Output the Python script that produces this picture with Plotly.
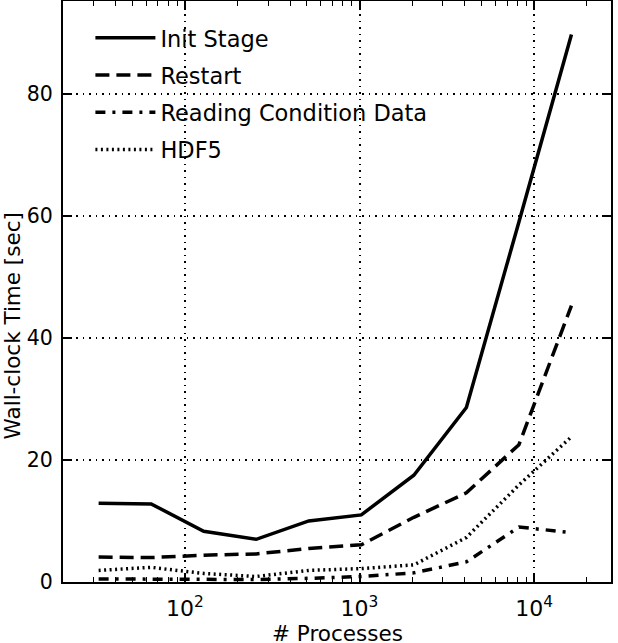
import plotly.graph_objects as go

# Process counts (x) and timings in seconds
procs = [32, 64, 128, 256, 512, 1024, 2048, 4096, 8192, 16384]
init_stage = [12.9, 12.8, 8.3, 7.0, 10.0, 11.0, 17.5, 28.6, 59.0, 89.7]
restart = [4.1, 4.0, 4.4, 4.6, 5.5, 6.1, 10.6, 14.6, 22.5, 45.3]
reading_cond = [0.5, 0.5, 0.4, 0.4, 0.6, 0.9, 1.5, 3.3, 9.0, 8.1]
hdf5 = [1.9, 2.4, 1.4, 0.9, 1.9, 2.2, 2.8, 7.3, 15.9, 23.8]

series = [
    ("Init Stage", init_stage, "solid"),
    ("Restart", restart, "14px,7px"),
    ("Reading Condition Data", reading_cond, "10px,7px,3px,7px"),
    ("HDF5", hdf5, "2px,3.5px"),
]

fig = go.Figure()
for name, vals, dash in series:
    fig.add_trace(go.Scatter(
        x=procs, y=vals, name=name, mode="lines", legendgroup=name,
        line=dict(color="black", width=3.5, dash=dash),
    ))

# log minor ticks at 2..9 of each decade
minor_vals = [m * 10 ** e for e in range(1, 5) for m in range(2, 10)]

font = "DejaVu Sans, sans-serif"
fig.update_layout(
    width=618, height=643,
    margin=dict(l=63, r=7, t=1, b=61),
    plot_bgcolor="white", paper_bgcolor="white",
    font=dict(family=font, size=20.5, color="black"),
    legend=dict(
        x=0.05, y=0.973, xanchor="left", yanchor="top",
        bgcolor="rgba(0,0,0,0)", font=dict(size=22.5),
        tracegroupgap=5, itemwidth=60,
    ),
)
fig.update_xaxes(
    type="log", range=[1.301, 4.441], automargin=False,
    tickvals=[100, 1000, 10000],
    ticktext=["10<sup>2</sup>", "10<sup>3</sup>", "10<sup>4</sup>"],
    tickfont=dict(size=22), ticklabelstandoff=6,
    ticks="inside", ticklen=9, tickwidth=1.5, tickcolor="black",
    minor=dict(tickvals=minor_vals, ticks="inside", ticklen=5, tickwidth=1,
               tickcolor="black", showgrid=False),
    showline=True, linecolor="black", linewidth=2, mirror="ticks",
    showgrid=True, gridcolor="black", griddash="1.5px,5px", gridwidth=1.5,
    zeroline=False,
)
fig.update_yaxes(
    range=[0, 95.2], automargin=False,
    tickvals=[0, 20, 40, 60, 80], ticklabelstandoff=4,
    ticks="inside", ticklen=9, tickwidth=1.5, tickcolor="black",
    showline=True, linecolor="black", linewidth=2, mirror="ticks",
    showgrid=True, gridcolor="black", griddash="1.5px,5px", gridwidth=1.5,
    zeroline=False,
)
# axis titles as annotations so they can sit where the original has them
fig.add_annotation(
    text="# Processes",
    xref="paper", yref="paper", x=0.5, y=-0.088,
    xanchor="center", yanchor="middle", showarrow=False,
    font=dict(size=21.5),
)
fig.add_annotation(
    text="Wall-clock Time [sec]", textangle=-90,
    xref="paper", yref="paper", x=-0.093, y=0.44,
    xanchor="center", yanchor="middle", showarrow=False,
    font=dict(size=21.5),
)

fig.write_html("out.html", config={"displayModeBar": False},
               post_script="document.body.style.margin = '0';")
